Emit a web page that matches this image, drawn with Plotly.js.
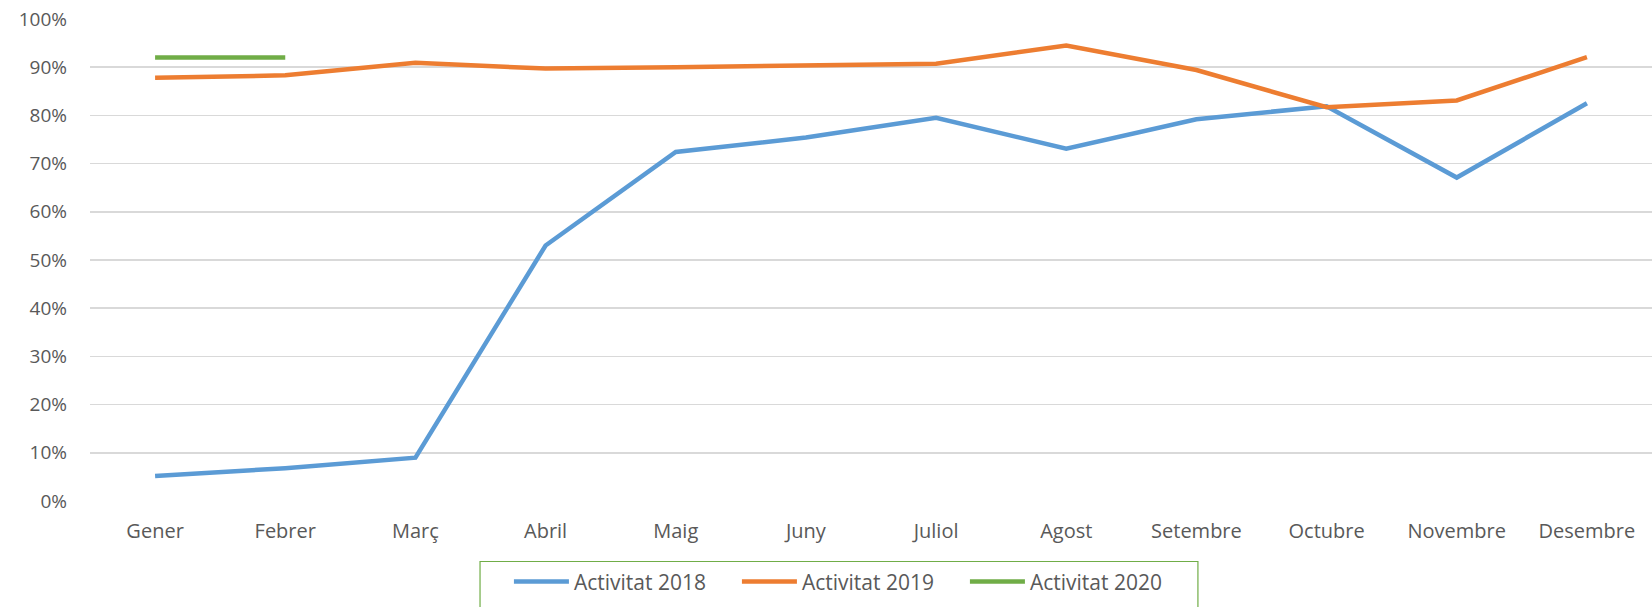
<!DOCTYPE html>
<html>
<head>
<meta charset="utf-8">
<script src="https://cdn.plot.ly/plotly-3.0.1.min.js"></script>
<style>html,body{margin:0;padding:0;background:#fff;}#chart{width:1652px;height:607px;}</style>
</head>
<body>
<div id="chart"></div>
<script>
const months = ["Gener","Febrer","Març","Abril","Maig","Juny","Juliol","Agost","Setembre","Octubre","Novembre","Desembre"];
const activitat2018 = [5.2, 6.8, 9.0, 53.0, 72.4, 75.4, 79.5, 73.1, 79.2, 81.9, 67.1, 82.5];
const activitat2019 = [87.8, 88.3, 90.9, 89.7, 90.0, 90.3, 90.7, 94.5, 89.4, 81.7, 83.1, 92.1];
const activitat2020 = [92.0, 92.0];
const yTicks = [0,10,20,30,40,50,60,70,80,90,100];
const yTickLabels = yTicks.map(v => v + "%");

const font = "'Open Sans', Lato, sans-serif";
const traces = [
  {x: months, y: activitat2018, name: "Activitat 2018", mode: "lines", line: {color: "#5B9BD5", width: 4.5}},
  {x: months, y: activitat2019, name: "Activitat 2019", mode: "lines", line: {color: "#ED7D31", width: 4.5}},
  {x: months.slice(0, activitat2020.length), y: activitat2020, name: "Activitat 2020", mode: "lines", line: {color: "#70AD47", width: 4.5}}
];
const layout = {
  width: 1652, height: 607,
  margin: {l: 90, r: 0, t: 18, b: 106},
  paper_bgcolor: "#fff", plot_bgcolor: "#fff",
  font: {family: font, size: 18, color: "#595959"},
  showlegend: true,
  xaxis: {
    type: "category", range: [-0.5, 11.5],
    showgrid: false, zeroline: false, showline: false, ticks: "",
    ticklabelstandoff: 16,
    tickfont: {family: font, size: 20, color: "#595959"}
  },
  yaxis: {
    range: [0, 100.2], tickvals: yTicks, ticktext: yTickLabels,
    showgrid: true, gridcolor: "#D9D9D9", gridwidth: 1.5,
    zeroline: false, showline: false, ticks: "",
    ticklabelstandoff: 22,
    tickfont: {family: font, size: 19, color: "#595959"}
  },
  shapes: [{
    type: "rect", xref: "paper", yref: "paper",
    x0: 0.2497, x1: 0.7093, y0: -0.1253, y1: -0.3,
    line: {color: "#70AD47", width: 1.2}, fillcolor: "rgba(0,0,0,0)", layer: "below"
  }],
  legend: {
    orientation: "h", x: 0.2682, xanchor: "left", y: -0.125, yanchor: "top",
    borderwidth: 0, bgcolor: "rgba(0,0,0,0)",
    entrywidth: 158, entrywidthmode: "pixels",
    font: {family: font, size: 21, color: "#595959"},
    itemwidth: 55
  }
};
Plotly.newPlot("chart", traces, layout, {displayModeBar: false, staticPlot: true});
</script>
</body>
</html>
